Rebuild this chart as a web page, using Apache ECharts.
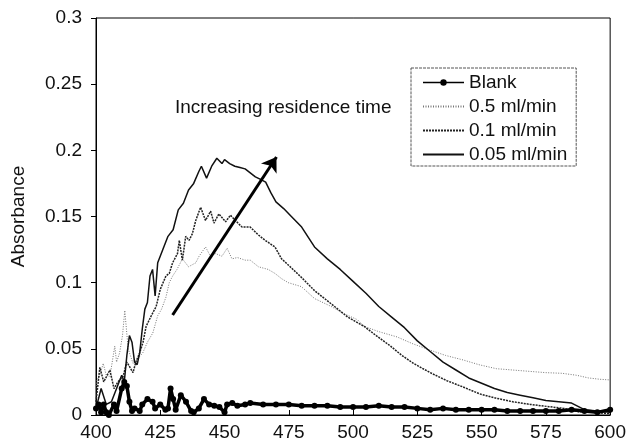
<!DOCTYPE html>
<html>
<head>
<meta charset="utf-8">
<script src="https://cdn.jsdelivr.net/npm/echarts@6/dist/echarts.min.js"></script>
<style>
  html, body { margin: 0; padding: 0; background: #fff; }
  #chart { width: 629px; height: 443px; }
</style>
</head>
<body>
<div id="chart"></div>
<script>
// wavelength ticks
var xTicks = [400, 425, 450, 475, 500, 525, 550, 575, 600];

// Blank
var blank = [[400,0.005],[401,0.008],[402,0.002],[403,0.008],[404,0.002],[405,0.0],[407,0.008],[408,0.003],
  [410,0.02],[411,0.025],[412,0.022],[413,0.01],[414,0.003],[415,0.005],[417,0.003],[418,0.008],[420,0.012],
  [422,0.01],[423,0.005],[425,0.008],[427,0.004],[428,0.005],[429,0.02],[430,0.012],[431,0.004],[433,0.015],
  [435,0.01],[437,0.003],[438,0.002],[440,0.005],[442,0.012],[444,0.008],[446,0.007],[448,0.006],[450,0.002],
  [451,0.008],[453,0.009],[455,0.007],[458,0.008],[460,0.009],[465,0.008],[470,0.008],[475,0.008],[480,0.007],
  [485,0.007],[490,0.007],[495,0.006],[500,0.006],[505,0.006],[510,0.007],[515,0.006],[520,0.006],[525,0.005],
  [530,0.004],[535,0.005],[540,0.004],[545,0.004],[550,0.004],[555,0.004],[560,0.003],[565,0.003],[570,0.003],
  [575,0.003],[580,0.003],[585,0.004],[590,0.003],[595,0.002],[600,0.004]];

// 0.5 ml/min
var flow05 = [[400,0.02],[400.3,0.026],[401.5,0.03],[402.8,0.039],[404,0.03],[405.4,0.029],[407.3,0.052],[408,0.04],
  [409.2,0.047],[410.3,0.06],[411.2,0.079],[412.5,0.05],[414.4,0.039],[416,0.042],[418.2,0.047],[420,0.055],
  [422.1,0.062],[424,0.075],[425.5,0.08],[427.2,0.089],[428.5,0.1],[429.8,0.105],[431.5,0.11],[433.6,0.118],
  [436,0.112],[438.8,0.115],[440.1,0.12],[442.6,0.127],[444.5,0.12],[446.5,0.122],[449,0.12],[451,0.126],
  [452.9,0.118],[455,0.119],[458,0.117],[460,0.117],[463.2,0.112],[467,0.11],[469.6,0.107],[472.2,0.103],
  [474.8,0.1],[479.9,0.097],[485,0.088],[491.5,0.082],[496,0.077],[501.7,0.072],[504.3,0.067],[510,0.063],
  [517.1,0.059],[523,0.054],[530,0.049],[536,0.045],[542.8,0.0416],[549,0.038],[555.7,0.035],[562,0.034],
  [568.5,0.033],[575,0.032],[581.4,0.0315],[587,0.03],[591.6,0.028],[596,0.027],[600,0.0265]];

// 0.1 ml/min
var flow01 = [[400,0.01],[401.5,0.036],[403,0.025],[405.4,0.034],[407,0.02],[408.5,0.025],[410.5,0.029],[412,0.04],
  [414.4,0.032],[415.5,0.04],[417,0.047],[418.3,0.055],[419.5,0.067],[421.5,0.075],[423.4,0.082],[425,0.095],
  [427.2,0.105],[428.5,0.107],[429.8,0.115],[431.7,0.122],[432.4,0.132],[433.6,0.117],[434.9,0.135],
  [436.2,0.132],[437.5,0.137],[438.8,0.147],[440.7,0.157],[442.6,0.147],[444.6,0.154],[445.9,0.145],
  [447.8,0.152],[450.4,0.146],[452.3,0.151],[454.2,0.147],[456.8,0.142],[460,0.142],[463.2,0.136],
  [465.8,0.132],[469.6,0.127],[472.2,0.118],[475,0.113],[479.9,0.104],[485,0.094],[492.8,0.082],[497.9,0.074],
  [504.3,0.067],[509,0.06],[514.6,0.052],[519,0.045],[523.5,0.039],[530,0.032],[536.4,0.026],[543,0.021],
  [549.2,0.016],[555,0.013],[562.1,0.01],[569,0.008],[576.2,0.0063],[582,0.005],[587.8,0.0025],[594,0.002],
  [600,0.001]];

// 0.05 ml/min
var flow005 = [[400,0.005],[402,0.02],[404,0.008],[406,0.01],[408,0.02],[410,0.03],[411,0.025],[412,0.045],
  [413,0.06],[414,0.055],[415,0.04],[416,0.038],[417,0.047],[418,0.065],[419,0.08],[420,0.085],[421,0.105],
  [422,0.11],[423,0.09],[424,0.115],[426,0.125],[428,0.135],[430,0.14],[432,0.155],[434,0.16],[436,0.17],
  [438,0.175],[440,0.184],[441,0.188],[443,0.179],[445,0.188],[447,0.194],[449,0.19],[450,0.193],[452,0.19],
  [454,0.188],[456,0.187],[458,0.186],[460,0.183],[462,0.18],[464,0.178],[466,0.176],[468,0.168],[470,0.161],
  [473,0.156],[476,0.15],[480,0.142],[485,0.127],[490,0.118],[495,0.11],[500,0.101],[505,0.092],[510,0.082],
  [515,0.074],[520,0.066],[525,0.056],[530,0.048],[535,0.04],[540,0.034],[545,0.028],[550,0.024],[555,0.02],
  [560,0.017],[565,0.015],[570,0.013],[575,0.011],[580,0.01],[585,0.009],[590,0.004],[595,0.003],[600,0.002]];

// arrow: from / to
var arrowFrom = [429.8, 0.0756];
var arrowTo = [470.2, 0.195];

var chart = echarts.init(document.getElementById('chart'));
var font = 'Liberation Sans, Arial, sans-serif';
var noDot = { opacity: 0 };

var option = {
	animation: false,
	backgroundColor: '#fff',
	grid: {
		left: 96,
		right: 14,
		top: 18,
		bottom: 28,
		show: true,
		borderColor: '#000',
		borderWidth: 1
	},
	legend: {
		orient: 'vertical',
		left: 411,
		top: 68,
		itemWidth: 41,
		itemHeight: 8,
		itemGap: 5,
		padding: [5, 9, 2, 11],
		borderColor: '#555',
		borderWidth: 1,
		borderType: [3, 1],
		textStyle: { fontFamily: font, fontSize: 19, color: '#111' },
		data: [
			{ name: 'Blank', lineStyle: { width: 1.5 } },
			{ name: '0.5 ml/min', itemStyle: noDot },
			{ name: '0.1 ml/min', itemStyle: noDot },
			{ name: '0.05 ml/min', itemStyle: noDot }
		]
	},
	xAxis: {
		type: 'value',
		min: 400,
		max: 600,
		interval: 25,
		axisLine: { lineStyle: { color: '#000', width: 1 } },
		axisTick: { inside: true, length: 5, lineStyle: { color: '#000' } },
		splitLine: { show: false },
		axisLabel: {
			fontFamily: font, fontSize: 19, color: '#111', margin: 8,
			formatter: function (v) { return xTicks.indexOf(v) >= 0 ? String(v) : ''; }
		}
	},
	yAxis: {
		type: 'value',
		min: 0,
		max: 0.3,
		interval: 0.05,
		name: 'Absorbance',
		nameLocation: 'middle',
		nameGap: 68,
		nameTextStyle: { fontFamily: font, fontSize: 19, color: '#111' },
		axisLine: { show: true, lineStyle: { color: '#000', width: 1 } },
		axisTick: { show: true, length: 5, lineStyle: { color: '#000' } },
		splitLine: { show: false },
		axisLabel: { fontFamily: font, fontSize: 19, color: '#111', margin: 14 }
	},
	graphic: [{
		type: 'text',
		left: 175,
		top: 98,
		style: {
			text: 'Increasing residence time',
			font: '19px ' + font,
			fill: '#111'
		}
	}],
	series: [{
		name: 'Blank',
		type: 'line',
		data: blank,
		symbol: 'circle',
		symbolSize: 6,
		showSymbol: true,
		itemStyle: { color: '#000' },
		lineStyle: { color: '#000', width: 3.5 },
		z: 5
	}, {
		name: '0.5 ml/min',
		type: 'line',
		data: flow05,
		symbol: 'none',
		itemStyle: { color: '#777' },
		lineStyle: { color: '#777', width: 1, type: [1, 1.5] }
	}, {
		name: '0.1 ml/min',
		type: 'line',
		data: flow01,
		symbol: 'none',
		itemStyle: { color: '#222' },
		lineStyle: { color: '#222', width: 1.5, type: [2, 1] }
	}, {
		name: '0.05 ml/min',
		type: 'line',
		data: flow005,
		symbol: 'none',
		itemStyle: { color: '#111' },
		lineStyle: { color: '#111', width: 1.5 },
		markLine: {
			silent: true,
			symbol: ['none', 'arrow'],
			symbolSize: 14,
			label: { show: false },
			lineStyle: { color: '#000', width: 3, type: 'solid' },
			data: [[{ coord: arrowFrom }, { coord: arrowTo }]]
		}
	}]
};

chart.setOption(option);
</script>
</body>
</html>
